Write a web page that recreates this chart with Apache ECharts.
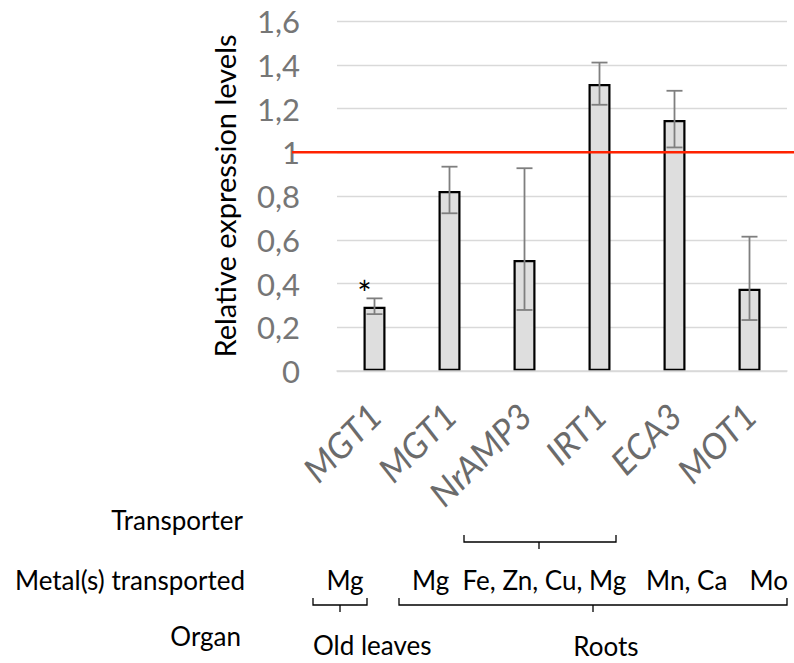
<!DOCTYPE html>
<html>
<head>
<meta charset="utf-8">
<script src="https://cdn.jsdelivr.net/npm/echarts@6/dist/echarts.min.js"></script>
<style>
html,body{margin:0;padding:0;background:#fff;}
#chart{width:794px;height:663px;}
</style>
</head>
<body>
<div id="chart"></div>
<script>
// ---- data ----
const categories = ['MGT1', 'MGT1', 'NrAMP3', 'IRT1', 'ECA3', 'MOT1'];
const values     = [0.294, 0.823, 0.507, 1.312, 1.147, 0.376];
const errHigh    = [0.332, 0.934, 0.927, 1.410, 1.281, 0.614];
const errLow     = [0.260, 0.721, 0.279, 1.217, 1.022, 0.233];
const significance = ['*', '', '', '', '', ''];
const referenceLevel = 1;
const yTicks = [0, 0.2, 0.4, 0.6, 0.8, 1, 1.2, 1.4, 1.6];
const metalLabels = ['Mg', 'Mg  Fe, Zn, Cu, Mg', 'Mn, Ca', 'Mo'];
const organLabels = ['Old leaves', 'Roots'];
const rowLabels = ['Transporter', 'Metal(s) transported', 'Organ'];

const FONT = 'Lato, "Open Sans", sans-serif';
const chart = echarts.init(document.getElementById('chart'), null, {renderer: 'svg'});

const errData = categories.map((c, i) => [i, errLow[i], errHigh[i]]);

function bracket(x1, x2, y, endLen) {
  return {
    type: 'polyline',
    shape: {points: [[x1, y - endLen], [x1, y], [x2, y], [x2, y - endLen]]},
    style: {stroke: '#000', lineWidth: 1.3, fill: null}
  };
}
function tick(x, y, len) {
  return {type: 'line', shape: {x1: x, y1: y, x2: x, y2: y + len}, style: {stroke: '#000', lineWidth: 1.3}};
}
function txt(x, y, t, align) {
  return {type: 'text', x: x, y: y, style: {text: t, font: '26px ' + FONT, fill: '#000', align: align || 'left', verticalAlign: 'middle'}};
}

const option = {
  animation: false,
  backgroundColor: '#fff',
  grid: {left: 337, right: 7, top: 21, bottom: 292, containLabel: false},
  xAxis: {
    type: 'category',
    data: categories,
    axisLine: {show: true, lineStyle: {color: '#d9d9d9', width: 1.5}},
    axisTick: {show: false},
    axisLabel: {
      rotate: 45, margin: 38, interval: 0,
      align: 'right', verticalAlign: 'middle',
      fontFamily: FONT, fontStyle: 'italic', fontSize: 35, color: '#6b6b6b'
    },
    z: 5
  },
  yAxis: {
    type: 'value',
    min: 0, max: 1.6, interval: 0.2,
    name: 'Relative expression levels',
    nameLocation: 'middle', nameGap: 98, nameRotate: 90,
    nameTextStyle: {fontFamily: FONT, fontSize: 29, color: '#000'},
    axisLine: {show: false},
    axisTick: {show: false},
    splitLine: {lineStyle: {color: '#d9d9d9', width: 1.4}},
    axisLabel: {
      margin: 37, fontFamily: FONT, fontSize: 31, color: '#767676',
      formatter: v => {
        const t = yTicks.find(k => Math.abs(k - v) < 1e-9);
        return String(Math.round((t === undefined ? v : t) * 10) / 10).replace('.', ',');
      }
    }
  },
  series: [
    {
      type: 'bar',
      data: values.map((v, i) => ({
        value: v,
        label: {show: significance[i] !== '', formatter: significance[i]}
      })),
      barWidth: 22,
      itemStyle: {color: '#dedede', borderColor: '#000', borderWidth: 2.2},
      label: {
        position: 'top', distance: 0, offset: [-10, 3],
        fontFamily: FONT, fontSize: 34, color: '#000'
      },
      z: 2
    },
    {
      type: 'custom',
      data: errData,
      z: 3,
      renderItem: (params, api) => {
        const x = api.value(0);
        const lo = api.coord([x, api.value(1)]);
        const hi = api.coord([x, api.value(2)]);
        const hw = 8;
        const st = {stroke: '#7f7f7f', lineWidth: 1.8};
        return {
          type: 'group',
          children: [
            {type: 'line', shape: {x1: hi[0], y1: hi[1], x2: lo[0], y2: lo[1]}, style: st},
            {type: 'line', shape: {x1: hi[0] - hw, y1: hi[1], x2: hi[0] + hw, y2: hi[1]}, style: st},
            {type: 'line', shape: {x1: lo[0] - hw, y1: lo[1], x2: lo[0] + hw, y2: lo[1]}, style: st}
          ]
        };
      }
    },
    {
      type: 'custom',
      data: [[0, referenceLevel]],
      z: 4,
      silent: true,
      renderItem: (params, api) => {
        const p = api.coord([0, api.value(1)]);
        return {
          type: 'line',
          shape: {x1: params.coordSys.x - 45, y1: p[1], x2: 794, y2: p[1]},
          style: {stroke: '#ff2200', lineWidth: 2.4}
        };
      }
    }
  ],
  graphic: [
    txt(243, 520, rowLabels[0], 'right'),
    txt(245, 580, rowLabels[1], 'right'),
    txt(241, 636, rowLabels[2], 'right'),
    txt(345, 580, metalLabels[0], 'center'),
    txt(412, 580, metalLabels[1], 'left'),
    txt(646, 580, metalLabels[2], 'left'),
    txt(788, 580, metalLabels[3], 'right'),
    txt(313, 645, organLabels[0], 'left'),
    txt(606, 646, organLabels[1], 'center'),
    // transporter bracket
    bracket(464, 616, 542, 7),
    tick(539, 542, 7),
    // old leaves bracket
    bracket(313, 367, 605, 7),
    tick(340, 605, 7),
    // roots bracket
    bracket(399, 787, 605, 7),
    tick(593, 605, 7)
  ]
};
chart.setOption(option);
</script>
</body>
</html>
